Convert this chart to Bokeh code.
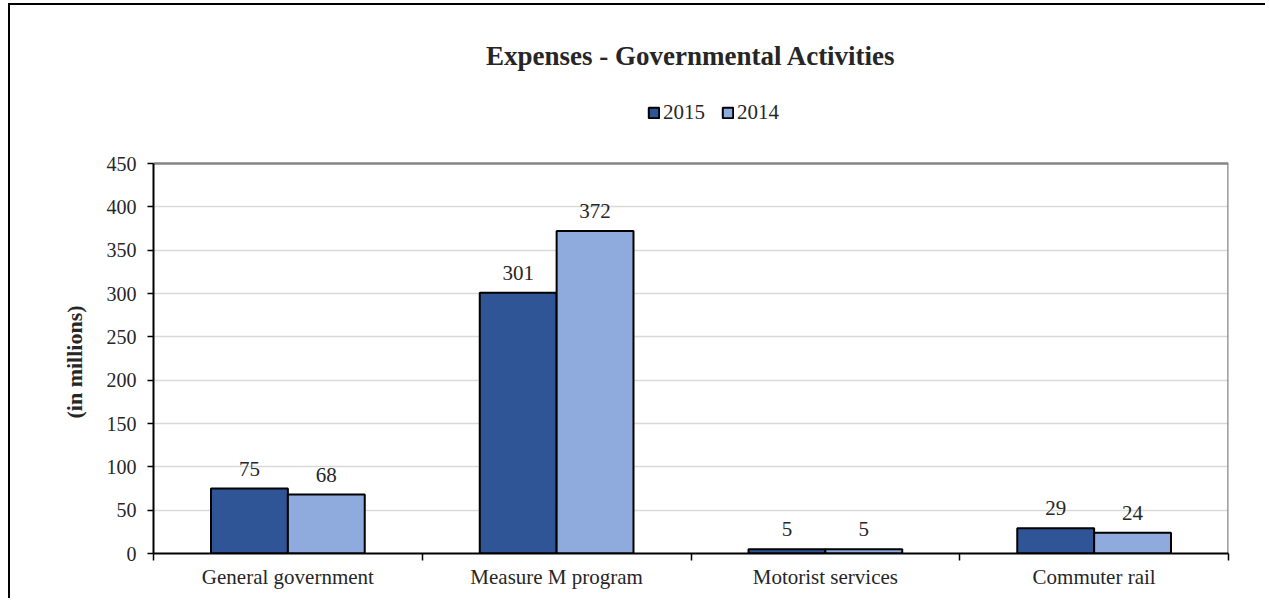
from bokeh.plotting import figure
from bokeh.models import ColumnDataSource, FixedTicker, Label, Legend, LegendItem, Range1d, Title
from bokeh.transform import dodge
from bokeh.core.properties import value
from bokeh.embed import file_html
from bokeh.resources import INLINE
import numpy as np

categories = ["General government", "Measure M program", "Motorist services", "Commuter rail"]
series_names = ["2015", "2014"]
values_2015 = [75, 301, 5, 29]
values_2014 = [68, 372, 5, 24]
y_ticks = [0, 50, 100, 150, 200, 250, 300, 350, 400, 450]
chart_title = "Expenses - Governmental Activities"
y_title = "(in millions)"

FONT = "Liberation Serif"
C2015 = "#2F5597"
C2014 = "#8FAADC"
TXT = "#262626"

# layout constants (page pixels)
FRAME_TOP_PX, AXIS_TOP_PX, AXIS_BOTTOM_PX = 15, 163, 553
TITLE_PX = 55
YTITLE_BOTTOM_PX = 415

n = len(categories)
ymax = y_ticks[-1]
px_per_unit = (AXIS_BOTTOM_PX - AXIS_TOP_PX) / ymax
y_end = (AXIS_BOTTOM_PX - FRAME_TOP_PX) / px_per_unit

src = ColumnDataSource(dict(
    x=list(np.arange(n) + 0.5),
    v15=values_2015,
    v14=values_2014,
    l15=[str(v) for v in values_2015],
    l14=[str(v) for v in values_2014],
))

p = figure(width=1257, height=595, output_backend="svg", toolbar_location=None,
           x_range=Range1d(0, n), y_range=Range1d(0, y_end),
           min_border_left=143, min_border_top=10, min_border_right=39, min_border_bottom=47)
p.styles = {"margin-left": "8px", "margin-top": "3px",
            "border-left": "2px solid black", "border-top": "2px solid black"}
p.background_fill_color = "white"
p.border_fill_color = "white"
p.outline_line_color = None

# grid
p.xgrid.grid_line_color = None
p.ygrid.grid_line_color = "#D9D9D9"
p.ygrid.grid_line_width = 1.5

# plot-area border (top and right, grey)
p.segment(x0=[0, n], y0=[ymax, 0], x1=[n, n], y1=[ymax, ymax],
          line_color="#868686", line_width=2.5)

bw = 0.286
r15 = p.vbar(x=dodge("x", -bw / 2, range=p.x_range), top="v15", width=bw, source=src,
             fill_color=C2015, line_color="black", line_width=2)
r14 = p.vbar(x=dodge("x", bw / 2, range=p.x_range), top="v14", width=bw, source=src,
             fill_color=C2014, line_color="black", line_width=2)

for col, lab, off in (("v15", "l15", -bw / 2), ("v14", "l14", bw / 2)):
    p.text(x=dodge("x", off, range=p.x_range), y=col, text=lab, source=src,
           text_font=value(FONT), text_font_size="21px", text_color=TXT,
           text_align="center", text_baseline="bottom", y_offset=-13)

# y axis
p.yaxis.ticker = FixedTicker(ticks=y_ticks)
p.yaxis.bounds = (0, ymax)
p.yaxis.axis_line_color = "black"
p.yaxis.axis_line_width = 2
p.yaxis.major_tick_line_color = "black"
p.yaxis.major_tick_line_width = 1.5
p.yaxis.major_tick_out = 6
p.yaxis.major_tick_in = 0
p.yaxis.minor_tick_line_color = None
p.yaxis.major_label_text_font = FONT
p.yaxis.major_label_text_font_size = "20px"
p.yaxis.major_label_text_color = TXT
p.yaxis.major_label_standoff = 11

ytitle = Title(text=y_title, align="left", offset=AXIS_BOTTOM_PX - YTITLE_BOTTOM_PX - 3,
               text_font=FONT, text_font_style="bold", text_font_size="22px",
               text_color=TXT, standoff=33)
p.add_layout(ytitle, "left")

# x axis
p.xaxis.ticker = FixedTicker(ticks=list(np.arange(n) + 0.5), minor_ticks=list(range(n + 1)))
p.xaxis.major_label_overrides = {float(i + 0.5): c for i, c in enumerate(categories)}
p.xaxis.major_tick_line_color = None
p.xaxis.minor_tick_line_color = "black"
p.xaxis.minor_tick_line_width = 1.5
p.xaxis.minor_tick_out = 7
p.xaxis.minor_tick_in = 0
p.xaxis.axis_line_color = "black"
p.xaxis.axis_line_width = 2
p.xaxis.major_label_text_font = FONT
p.xaxis.major_label_text_font_size = "21px"
p.xaxis.major_label_text_color = TXT
p.xaxis.major_label_standoff = 4

title = Label(x=n / 2, y=(AXIS_BOTTOM_PX - TITLE_PX) / px_per_unit,
              text=chart_title, text_font=FONT,
              text_font_size="27px", text_font_style="bold", text_color=TXT,
              text_align="center", text_baseline="middle")
p.add_layout(title)

legend = Legend(items=[LegendItem(label=series_names[0], renderers=[r15]),
                       LegendItem(label=series_names[1], renderers=[r14])],
                orientation="horizontal", location=(494, 428),
                label_text_font=FONT, label_text_font_size="21px", label_text_color=TXT,
                glyph_width=13, glyph_height=13, label_standoff=3, spacing=16,
                padding=0, margin=0, border_line_color=None, background_fill_alpha=0)
p.add_layout(legend)

open("out.html", "w").write(file_html(p, INLINE))
